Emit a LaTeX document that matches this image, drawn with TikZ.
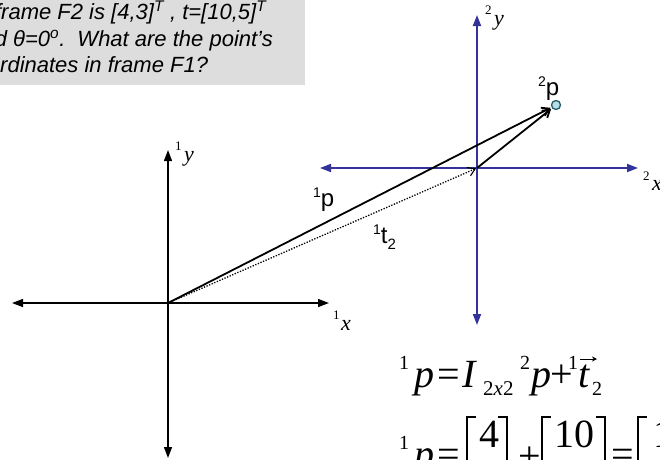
\documentclass[tikz,border=0pt]{standalone}
\usepackage{fontspec}
\setmainfont{Liberation Sans}
\newfontfamily\eqf{Liberation Serif}
\usetikzlibrary{arrows.meta}
\definecolor{axblue}{RGB}{51,51,153}
\definecolor{boxgray}{RGB}{221,221,221}
\definecolor{ptfill}{RGB}{178,224,230}
\definecolor{ptdraw}{RGB}{40,90,100}
\newcommand\pxs[1]{\fontsize{#1}{#1}\selectfont}
\begin{document}
\begin{tikzpicture}[x=1pt,y=-1pt,
  blkaxis/.style={line width=1.3pt, black, {Triangle[length=11pt,width=8pt]}-{Triangle[length=11pt,width=8pt]}},
  bluaxis/.style={line width=1.8pt, axblue, {Triangle[length=11pt,width=8pt]}-{Triangle[length=11pt,width=8pt]}},
  vecline/.style={line width=1.8pt, -{Straight Barb[length=7pt,width=9pt]}, shorten >=1pt},
  dotline/.style={line width=1.3pt, dash pattern=on 1.3pt off 1.5pt, -{Straight Barb[length=7pt,width=9pt,line width=1.1pt]}, shorten >=1pt},
  lbl/.style={inner sep=0, anchor=base west},
  qtext/.style={lbl, font=\itshape\pxs{22}},
  axlbl/.style={lbl, font=\eqf\pxs{22}},
  arlbl/.style={lbl, font=\pxs{24}},
  eq/.style={lbl, font=\eqf\pxs{40}},
  eqs/.style={lbl, font=\eqf\pxs{20}},
  brk/.style={line width=1.4pt, line cap=rect}]
\useasboundingbox (0,0) rectangle (660,459);

% question box
\fill[boxgray] (-2,-2) rectangle (305,85);
\node[qtext] (q1) at (1,19) {\llap{f}rame F2 is [4,3]\textsuperscript{T} , t=[10,5]\textsuperscript{T}};
\node[qtext] (q2) at (13,46) {\llap{and }θ=0\textsuperscript{o}.\hspace{0.55em}What are the point’s};
\node[qtext] (q3) at (0,72) {\llap{coo}rdinates in frame F1?};

% frame 1 axes
\coordinate (O1) at (168,303);
\coordinate (x1l) at (12,303);
\coordinate (x1r) at (329,303);
\coordinate (y1t) at (168,150);
\coordinate (y1b) at (168,458);
\draw[blkaxis] (x1l) -- (x1r);
\draw[blkaxis] (y1t) -- (y1b);

% frame 2 axes
\coordinate (O2) at (477,168);
\coordinate (x2l) at (320,168);
\coordinate (x2r) at (638,168);
\coordinate (y2t) at (477,15);
\coordinate (y2b) at (477,325);
\draw[bluaxis] (x2l) -- (x2r);
\draw[bluaxis] (y2t) -- (y2b);

% point
\node[circle, draw=ptdraw, fill=ptfill, line width=1.3pt, minimum size=9pt, inner sep=0] (P) at (556,105) {};

% vectors
\draw[dotline] (O1) -- (O2);
\draw[vecline] (O1) -- (P);
\draw[vecline] (O2) -- (P);

% axis labels
\node[axlbl] (lx1) at (333,330) {\raisebox{11pt}{\pxs{13}1}\hspace{1.5pt}\itshape x};
\node[axlbl] (ly1) at (175,161) {\raisebox{11pt}{\pxs{13}1}\hspace{2.5pt}\itshape y};
\node[axlbl] (ly2) at (485,25) {\raisebox{11pt}{\pxs{13}2}\hspace{2.5pt}\itshape y};
\node[axlbl] (lx2) at (643,190) {\raisebox{10pt}{\pxs{13}2}\hspace{2.5pt}\itshape x};

% vector labels
\node[arlbl] (lp1) at (313,206) {\raisebox{9pt}{\pxs{14}1}p};
\node[arlbl] (lt) at (373,243) {\raisebox{9pt}{\pxs{14}1}t\raisebox{-6pt}{\pxs{15}2}};
\node[arlbl] (lp2) at (538,95) {\raisebox{9pt}{\pxs{14}2}p};

% equation line 1
\node[eqs] (e1a) at (399,369) {1};
\node[eq] (e1p) at (414,387) {\itshape p};
\node[eq] (e1eq) at (437,387) {=};
\node[eq] (e1I) at (462,387) {\itshape I};
\node[eqs, font=\eqf\pxs{21}] (e1s) at (483,395) {2\itshape x\upshape 2};
\node[eqs] (e1b) at (520,369) {2};
\node[eq] (e1p2) at (531,387) {\itshape p};
\node[eq] (e1plus) at (550,387) {+};
\node[eqs] (e1c) at (568,369) {1};
\node[eq] (e1t) at (578,387) {\itshape t};
\coordinate (ta) at (580,359);
\coordinate (tb) at (597,359);
\draw[line width=0.9pt, -{Stealth[length=5pt,width=5pt]}] (ta) -- (tb);
\node[eqs] (e1d) at (592,395) {2};

% equation line 2
\node[eqs] (e2a) at (399,449) {1};
\node[eq] (e2p) at (414,467) {\itshape p};
\node[eq] (e2eq) at (437,467) {=};
\draw[brk] (475,417) -| (467,480);
\draw[brk] (499,417) -| (507,480);
\node[eq, anchor=base] (m1) at (489,447) {4};
\node[eq] (e2plus) at (518,469) {+};
\draw[brk] (550,417) -| (542,480);
\draw[brk] (597,417) -| (605,480);
\node[eq, anchor=base] (m2) at (574,447) {10};
\node[eq] (e2eq2) at (611,467) {=};
\draw[brk] (646,417) -| (638,480);
\node[eq] (m3) at (653,447) {14};
\end{tikzpicture}
\end{document}
